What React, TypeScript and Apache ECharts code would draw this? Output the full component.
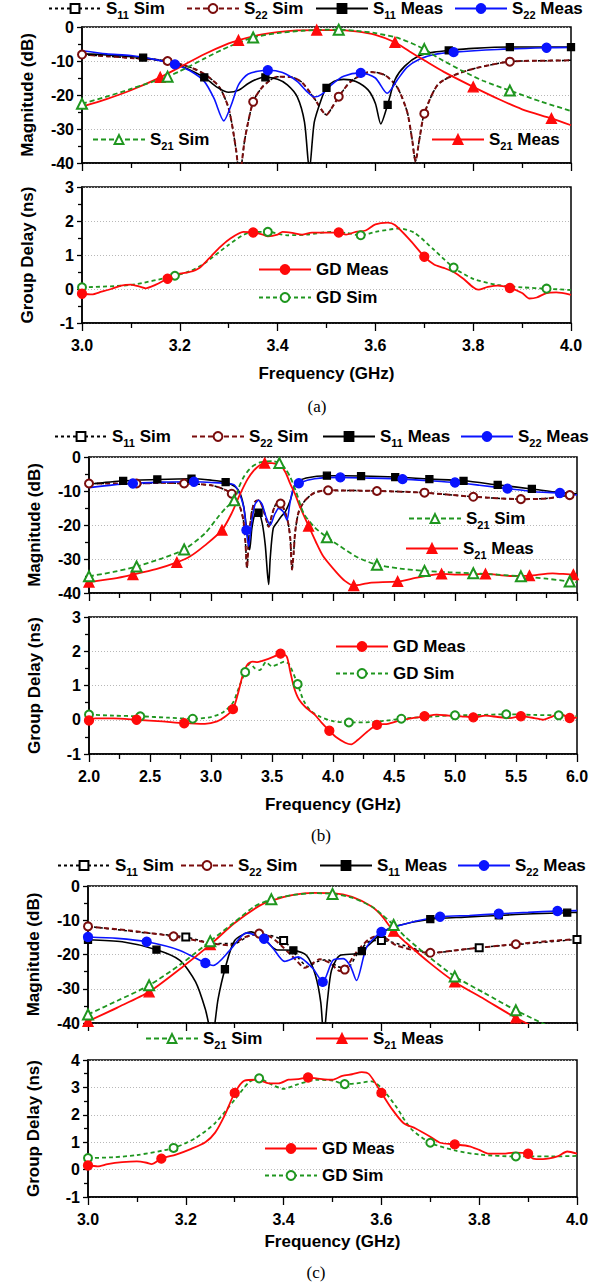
import React, { useEffect, useRef } from 'react';
import * as echarts from 'echarts';

type Pt = [number, number];

// ---------------- Panel (a) ----------------
const aS22Sim: Pt[] = [[3.0,-8.1],[3.05,-8.6],[3.1,-9.1],[3.175,-10.0],[3.22,-11.8],[3.25,-13.8],[3.28,-17.5],[3.3,-24],[3.315,-36],[3.322,-44],[3.333,-33],[3.35,-22],[3.37,-17.5],[3.4,-14.6],[3.43,-14.8],[3.45,-16.3],[3.475,-21],[3.5,-25.8],[3.51,-24],[3.525,-20.5],[3.55,-16],[3.59,-13.2],[3.62,-14.2],[3.645,-17.8],[3.665,-25],[3.675,-33],[3.682,-39.5],[3.69,-33],[3.7,-25.5],[3.73,-16.6],[3.79,-12.7],[3.875,-10.2],[3.95,-9.9],[4.0,-9.8]];
const aS22SimMk = [3.0, 3.175, 3.35, 3.525, 3.7, 3.875];
const aS11Sim: Pt[] = [[3.0,-8.1],[3.05,-8.6],[3.1,-9.1],[3.175,-10.0],[3.22,-11.8],[3.25,-13.8],[3.28,-17.5],[3.3,-24],[3.315,-36],[3.322,-44],[3.333,-33],[3.35,-22],[3.37,-17.5],[3.4,-14.6],[3.43,-14.8],[3.45,-16.3],[3.475,-21],[3.5,-25.8],[3.51,-24],[3.525,-20.5],[3.55,-16],[3.59,-13.2],[3.62,-14.2],[3.645,-17.8],[3.665,-25],[3.675,-33],[3.682,-39.5],[3.69,-33],[3.7,-25.5],[3.73,-16.6],[3.79,-12.7],[3.875,-10.2],[3.95,-9.9],[4.0,-9.8]];
const aS11SimMk: number[] = [];
const aS11Meas: Pt[] = [[3.0,-7.9],[3.05,-8.2],[3.1,-8.7],[3.125,-9.0],[3.175,-10.3],[3.2,-11.3],[3.25,-14.8],[3.275,-17.6],[3.3,-19.2],[3.32,-18.6],[3.34,-16.6],[3.36,-15.2],[3.375,-14.8],[3.4,-15.4],[3.42,-17],[3.44,-20.5],[3.455,-28],[3.465,-42],[3.475,-28],[3.49,-21],[3.5,-17.9],[3.515,-16],[3.535,-15.4],[3.56,-16],[3.585,-18.5],[3.6,-22.5],[3.611,-28.5],[3.625,-22.9],[3.64,-15.5],[3.66,-11.5],[3.69,-8.4],[3.72,-7.4],[3.75,-6.9],[3.8,-6.3],[3.875,-5.9],[3.95,-5.9],[4.0,-5.9]];
const aS11MeasMk = [3.125, 3.25, 3.375, 3.5, 3.625, 3.75, 3.875, 4.0];
const aS22Meas: Pt[] = [[3.0,-7.0],[3.05,-7.9],[3.1,-8.4],[3.15,-9.6],[3.19,-11.0],[3.22,-12.8],[3.25,-16],[3.27,-21],[3.29,-27.6],[3.305,-23],[3.32,-17],[3.34,-13.8],[3.38,-12.7],[3.41,-13.4],[3.44,-16],[3.46,-19],[3.475,-20.6],[3.49,-19.8],[3.51,-17],[3.535,-14.5],[3.57,-13.5],[3.6,-15],[3.624,-19.5],[3.645,-15.5],[3.665,-11.8],[3.69,-9.5],[3.72,-8.1],[3.76,-7.4],[3.85,-6.6],[3.95,-6.1],[4.0,-6.0]];
const aS22MeasMk = [3.19, 3.38, 3.57, 3.76, 3.95];
const aS21Meas: Pt[] = [[3.0,-23.4],[3.05,-21.2],[3.1,-18.6],[3.16,-14.8],[3.2,-11.8],[3.25,-8],[3.3,-4.8],[3.32,-3.9],[3.36,-2.4],[3.4,-1.5],[3.44,-1.0],[3.48,-0.9],[3.52,-0.9],[3.56,-1.3],[3.6,-2.3],[3.64,-4.5],[3.67,-7.2],[3.7,-9.8],[3.74,-13.2],[3.8,-17.6],[3.855,-21.4],[3.9,-24.2],[3.96,-26.9],[4.0,-28.9]];
const aS21MeasMk = [3.16, 3.32, 3.48, 3.64, 3.8, 3.96];
const aS21Sim: Pt[] = [[3.0,-22.6],[3.05,-20.5],[3.1,-18.2],[3.175,-14.6],[3.2,-13.0],[3.25,-9.3],[3.3,-5.8],[3.35,-3.1],[3.4,-1.8],[3.45,-1.1],[3.5,-0.8],[3.525,-0.8],[3.56,-1.1],[3.6,-1.8],[3.65,-3.4],[3.7,-6.5],[3.73,-9.2],[3.775,-12.7],[3.82,-15.8],[3.875,-18.7],[3.94,-22.0],[4.0,-24.7]];
const aS21SimMk = [3.0, 3.175, 3.35, 3.525, 3.7, 3.875];
const aGDMeas: Pt[] = [[3.0,-0.14],[3.02,-0.16],[3.04,-0.08],[3.06,0.0],[3.08,0.1],[3.1,0.13],[3.12,0.06],[3.13,0.02],[3.15,0.12],[3.175,0.3],[3.2,0.45],[3.22,0.5],[3.24,0.62],[3.26,0.9],[3.28,1.2],[3.3,1.45],[3.33,1.68],[3.35,1.66],[3.37,1.6],[3.38,1.55],[3.4,1.6],[3.41,1.68],[3.43,1.65],[3.45,1.6],[3.47,1.66],[3.5,1.66],[3.525,1.66],[3.54,1.6],[3.56,1.68],[3.58,1.72],[3.6,1.9],[3.625,1.95],[3.64,1.88],[3.67,1.45],[3.7,0.95],[3.72,0.72],[3.74,0.62],[3.76,0.5],[3.78,0.3],[3.8,0.05],[3.81,-0.02],[3.83,0.06],[3.85,0.1],[3.875,0.03],[3.9,-0.12],[3.915,-0.28],[3.93,-0.25],[3.95,-0.12],[3.97,-0.1],[4.0,-0.17]];
const aGDMeasMk = [3.0, 3.175, 3.35, 3.525, 3.7, 3.875];
const aGDSim: Pt[] = [[3.0,0.05],[3.1,0.12],[3.19,0.39],[3.22,0.52],[3.25,0.75],[3.3,1.3],[3.34,1.65],[3.38,1.68],[3.42,1.58],[3.46,1.6],[3.51,1.68],[3.54,1.65],[3.57,1.58],[3.6,1.68],[3.65,1.78],[3.68,1.65],[3.72,1.15],[3.76,0.63],[3.8,0.3],[3.85,0.12],[3.9,0.05],[3.95,0.01],[4.0,-0.03]];
const aGDSimMk = [3.0, 3.19, 3.38, 3.57, 3.76, 3.95];

// ---------------- Panel (b) ----------------
const bS22Sim: Pt[] = [[2.0,-7.8],[2.2,-7.8],[2.39,-7.8],[2.6,-7.6],[2.78,-7.8],[3.0,-8.3],[3.1,-9.4],[3.17,-10.8],[3.23,-14],[3.265,-18.5],[3.282,-25],[3.295,-32.6],[3.31,-24],[3.335,-16],[3.36,-13.2],[3.39,-12.7],[3.42,-14.5],[3.45,-18],[3.473,-20.5],[3.5,-17],[3.53,-14],[3.57,-13.7],[3.6,-15.5],[3.63,-19],[3.65,-24],[3.664,-33.1],[3.678,-28],[3.69,-22],[3.72,-16],[3.773,-12.7],[3.85,-10.5],[3.96,-9.8],[4.36,-10],[4.75,-10.5],[5.15,-11.7],[5.54,-12.4],[5.75,-12.2],[5.94,-11.2],[6.0,-10.8]];
const bS22SimMk = [2.0, 2.39, 2.78, 3.17, 3.57, 3.96, 4.36, 4.75, 5.15, 5.54, 5.94];
const bS11Sim: Pt[] = [[2.0,-7.8],[2.2,-7.8],[2.39,-7.8],[2.6,-7.6],[2.78,-7.8],[3.0,-8.3],[3.1,-9.4],[3.17,-10.8],[3.23,-14],[3.265,-18.5],[3.282,-25],[3.295,-32.6],[3.31,-24],[3.335,-16],[3.36,-13.2],[3.39,-12.7],[3.42,-14.5],[3.45,-18],[3.473,-20.5],[3.5,-17],[3.53,-14],[3.57,-13.7],[3.6,-15.5],[3.63,-19],[3.65,-24],[3.664,-33.1],[3.678,-28],[3.69,-22],[3.72,-16],[3.773,-12.7],[3.85,-10.5],[3.96,-9.8],[4.36,-10],[4.75,-10.5],[5.15,-11.7],[5.54,-12.4],[5.75,-12.2],[5.94,-11.2],[6.0,-10.8]];
const bS11SimMk: number[] = [];
const bS11Meas: Pt[] = [[2.0,-8.0],[2.28,-7.0],[2.56,-6.6],[2.84,-6.4],[3.0,-6.8],[3.12,-7.4],[3.2,-8.8],[3.24,-10.8],[3.27,-15],[3.295,-22],[3.317,-27.3],[3.335,-21],[3.36,-16.8],[3.39,-16.4],[3.42,-19.5],[3.445,-26],[3.462,-34],[3.473,-37.5],[3.485,-30],[3.51,-21],[3.546,-19],[3.58,-17.3],[3.609,-16.1],[3.65,-12.7],[3.68,-9],[3.705,-7.4],[3.78,-6.2],[3.95,-5.5],[4.23,-5.6],[4.51,-5.9],[4.79,-6.5],[5.07,-7.0],[5.35,-8.2],[5.63,-9.4],[5.85,-10.4],[6.0,-10.8]];
const bS11MeasMk = [2.28, 2.56, 2.84, 3.12, 3.39, 3.95, 4.23, 4.51, 4.79, 5.07, 5.35, 5.63];
const bS22Meas: Pt[] = [[2.0,-9.0],[2.2,-8.2],[2.36,-7.8],[2.6,-7.4],[2.86,-7.3],[3.0,-7.5],[3.12,-7.7],[3.19,-8.2],[3.23,-10.5],[3.268,-14.7],[3.29,-21.5],[3.309,-26.3],[3.33,-20],[3.36,-14],[3.39,-12.7],[3.42,-14],[3.45,-17.5],[3.486,-20],[3.52,-17],[3.555,-15.1],[3.59,-16],[3.623,-18.5],[3.645,-14],[3.678,-8.8],[3.72,-7.7],[3.85,-6.4],[4.06,-6.0],[4.3,-6.2],[4.57,-6.5],[4.8,-7.0],[5.0,-7.5],[5.2,-8.3],[5.43,-9.3],[5.65,-10.2],[5.86,-10.6],[6.0,-11.2]];
const bS22MeasMk = [2.36, 2.86, 3.29, 3.72, 4.06, 4.57, 5.0, 5.43, 5.86];
const bS21Meas: Pt[] = [[2.0,-36.8],[2.2,-35.8],[2.36,-34.6],[2.55,-33],[2.72,-31],[2.83,-29.2],[2.95,-26],[3.09,-21.5],[3.17,-16.5],[3.24,-10.8],[3.3,-6.5],[3.35,-4],[3.4,-2.4],[3.44,-1.8],[3.5,-1.8],[3.57,-2.6],[3.61,-4.5],[3.65,-7.9],[3.69,-11],[3.73,-14.7],[3.8,-20.3],[3.86,-25],[3.92,-29.2],[4.03,-34],[4.1,-36.5],[4.17,-37.8],[4.3,-37],[4.53,-36.6],[4.7,-35.4],[4.89,-34.4],[5.05,-34.6],[5.25,-34.4],[5.45,-35],[5.61,-34.9],[5.8,-34.2],[5.97,-34.6],[6.0,-34.6]];
const bS21MeasMk = [2.0, 2.36, 2.72, 3.09, 3.44, 3.8, 4.17, 4.53, 4.89, 5.25, 5.61, 5.97];
const bS21Sim: Pt[] = [[2.0,-35.1],[2.2,-33.8],[2.39,-32.2],[2.6,-29.8],[2.78,-27.2],[2.95,-22.5],[3.05,-18],[3.12,-15],[3.19,-12.7],[3.23,-8.8],[3.268,-5.9],[3.31,-3.8],[3.35,-2.5],[3.4,-1.6],[3.445,-1.3],[3.5,-1.2],[3.56,-1.8],[3.6,-3],[3.65,-5.9],[3.7,-10.5],[3.76,-16.6],[3.85,-20.7],[3.95,-23.6],[4.06,-26.3],[4.2,-29.5],[4.36,-31.7],[4.55,-32.8],[4.75,-33.5],[4.95,-33.9],[5.15,-34.2],[5.35,-34.6],[5.54,-35.1],[5.75,-35.8],[5.94,-36.6],[6.0,-36.9]];
const bS21SimMk = [2.0, 2.39, 2.78, 3.19, 3.56, 3.95, 4.36, 4.75, 5.15, 5.54, 5.94];
const bGDMeas: Pt[] = [[2.0,-0.02],[2.05,0.04],[2.2,0.04],[2.39,0.0],[2.6,-0.05],[2.78,-0.1],[2.95,-0.12],[3.05,-0.05],[3.12,0.1],[3.18,0.31],[3.22,0.75],[3.26,1.3],[3.3,1.62],[3.34,1.7],[3.38,1.68],[3.42,1.72],[3.47,1.78],[3.52,1.85],[3.57,1.93],[3.62,1.85],[3.65,1.4],[3.68,0.95],[3.72,0.6],[3.78,0.35],[3.85,0.15],[3.91,-0.1],[3.97,-0.32],[4.03,-0.52],[4.1,-0.67],[4.15,-0.72],[4.2,-0.6],[4.28,-0.35],[4.36,-0.15],[4.45,-0.12],[4.55,-0.02],[4.65,0.05],[4.75,0.1],[4.85,0.15],[4.95,0.12],[5.05,0.1],[5.15,0.07],[5.25,0.12],[5.35,0.08],[5.45,0.05],[5.54,0.1],[5.65,0.05],[5.72,0.0],[5.8,0.1],[5.86,0.18],[5.94,0.05],[6.0,0.06]];
const bGDMeasMk = [2.0, 2.39, 2.78, 3.18, 3.57, 3.97, 4.36, 4.75, 5.15, 5.54, 5.94];
const bGDSim: Pt[] = [[2.0,0.15],[2.2,0.12],[2.42,0.1],[2.65,0.06],[2.85,0.03],[3.0,0.08],[3.1,0.22],[3.18,0.5],[3.23,0.95],[3.28,1.39],[3.32,1.65],[3.36,1.5],[3.4,1.45],[3.45,1.68],[3.5,1.56],[3.55,1.62],[3.6,1.7],[3.64,1.62],[3.71,1.04],[3.76,0.55],[3.82,0.25],[3.9,0.08],[4.0,-0.04],[4.13,-0.08],[4.3,-0.07],[4.45,-0.02],[4.56,0.03],[4.75,0.08],[5.0,0.13],[5.2,0.14],[5.42,0.16],[5.65,0.14],[5.85,0.13],[6.0,0.1]];
const bGDSimMk = [2.0, 2.42, 2.85, 3.28, 3.71, 4.13, 4.56, 5.0, 5.42, 5.85];

// ---------------- Panel (c) ----------------
const cS22Sim: Pt[] = [[3.0,-11.8],[3.09,-13.1],[3.175,-14.7],[3.24,-16.4],[3.29,-17.3],[3.32,-15],[3.35,-13.9],[3.375,-15],[3.4,-18],[3.426,-21.7],[3.443,-23.9],[3.46,-22.5],[3.474,-21.4],[3.495,-22.5],[3.515,-24.8],[3.525,-24.4],[3.549,-19.3],[3.575,-15.5],[3.597,-14.4],[3.63,-17.3],[3.7,-19.5],[3.78,-18.3],[3.875,-17.0],[3.95,-16],[4.0,-15.5]];
const cS22SimMk = [3.0, 3.175, 3.35, 3.525, 3.7, 3.875];
const cS11Sim: Pt[] = [[3.0,-11.8],[3.1,-13.4],[3.2,-14.9],[3.26,-16.8],[3.3,-16.8],[3.33,-14.5],[3.36,-14.2],[3.4,-15.9],[3.43,-21],[3.45,-23.5],[3.47,-22],[3.49,-21.5],[3.51,-23.5],[3.53,-24],[3.55,-20],[3.575,-16.2],[3.6,-15.9],[3.65,-17.5],[3.7,-19.5],[3.8,-18.0],[3.9,-16.8],[4.0,-15.6]];
const cS11SimMk = [3.2, 3.4, 3.6, 3.8, 4.0];
const cS11Meas: Pt[] = [[3.0,-15.7],[3.07,-16.3],[3.14,-18.6],[3.188,-21.7],[3.22,-28],[3.24,-36],[3.254,-44],[3.266,-33],[3.28,-24.3],[3.3,-15.9],[3.334,-13.4],[3.36,-15.5],[3.385,-18.6],[3.42,-18.8],[3.447,-20.3],[3.465,-26],[3.476,-34],[3.482,-44],[3.49,-33],[3.498,-24.6],[3.515,-20.3],[3.549,-19.8],[3.56,-19],[3.58,-16.5],[3.6,-13.7],[3.63,-11.7],[3.7,-9.7],[3.77,-9.1],[3.84,-8.6],[3.91,-8.1],[3.98,-7.8],[4.0,-7.7]];
const cS11MeasMk = [3.0, 3.14, 3.28, 3.42, 3.56, 3.7, 3.84, 3.98];
const cS22Meas: Pt[] = [[3.0,-14.9],[3.06,-15.3],[3.12,-16.3],[3.188,-18.8],[3.24,-22.5],[3.256,-23.2],[3.29,-18.8],[3.324,-13.7],[3.36,-15.4],[3.379,-18.3],[3.402,-22],[3.43,-20.7],[3.46,-24.1],[3.48,-28],[3.501,-21.7],[3.522,-21.2],[3.537,-23.5],[3.549,-27.6],[3.57,-17.8],[3.6,-13.4],[3.65,-11],[3.72,-9.0],[3.78,-8.6],[3.84,-8.1],[3.9,-7.7],[3.96,-7.3],[4.0,-7.2]];
const cS22MeasMk = [3.0, 3.12, 3.24, 3.36, 3.48, 3.6, 3.72, 3.84, 3.96];
const cS21Meas: Pt[] = [[3.0,-39.5],[3.06,-35.5],[3.125,-30.9],[3.19,-24],[3.25,-17.1],[3.3,-10.8],[3.35,-5.8],[3.375,-4.3],[3.42,-2.6],[3.46,-2.0],[3.5,-2.1],[3.54,-3.2],[3.58,-6],[3.6,-8.6],[3.625,-13.2],[3.65,-16.5],[3.7,-22.6],[3.75,-28],[3.81,-33],[3.875,-38.5],[3.91,-41]];
const cS21MeasMk = [3.0, 3.125, 3.25, 3.625, 3.75, 3.875];
const cS21Sim: Pt[] = [[3.0,-37.5],[3.06,-33.5],[3.125,-29],[3.19,-22.8],[3.25,-16.1],[3.3,-10.5],[3.34,-6],[3.375,-3.9],[3.42,-2.6],[3.46,-2.1],[3.5,-2.3],[3.54,-3.4],[3.58,-6],[3.6,-8.2],[3.625,-11.4],[3.65,-15],[3.7,-21],[3.75,-26.4],[3.81,-31.2],[3.875,-36.3],[3.94,-40.8]];
const cS21SimMk = [3.0, 3.125, 3.25, 3.375, 3.5, 3.625, 3.75, 3.875];
const cGDMeas: Pt[] = [[3.0,0.15],[3.02,0.12],[3.04,0.2],[3.07,0.27],[3.1,0.3],[3.12,0.25],[3.13,0.2],[3.15,0.4],[3.18,0.55],[3.21,0.75],[3.24,1.0],[3.26,1.35],[3.28,2.0],[3.3,2.8],[3.32,3.25],[3.345,3.28],[3.37,3.15],[3.39,3.15],[3.41,3.28],[3.43,3.3],[3.45,3.36],[3.47,3.32],[3.5,3.28],[3.52,3.42],[3.54,3.48],[3.56,3.56],[3.575,3.48],[3.6,2.8],[3.62,2.25],[3.645,1.7],[3.67,1.5],[3.7,1.2],[3.72,0.98],[3.75,0.92],[3.78,0.85],[3.8,0.72],[3.82,0.58],[3.85,0.58],[3.87,0.62],[3.9,0.58],[3.91,0.4],[3.93,0.38],[3.96,0.48],[3.98,0.66],[4.0,0.58]];
const cGDMeasMk = [3.0, 3.15, 3.3, 3.45, 3.6, 3.75, 3.9];
const cGDSim: Pt[] = [[3.0,0.42],[3.05,0.45],[3.1,0.53],[3.175,0.79],[3.22,1.15],[3.26,1.7],[3.3,2.55],[3.33,3.2],[3.35,3.33],[3.37,3.15],[3.4,2.95],[3.43,3.12],[3.47,3.28],[3.5,3.25],[3.525,3.12],[3.55,3.15],[3.58,3.22],[3.6,2.98],[3.63,2.3],[3.66,1.5],[3.7,0.98],[3.75,0.7],[3.8,0.55],[3.875,0.48],[3.95,0.48],[4.0,0.5]];
const cGDSimMk = [3.0, 3.175, 3.35, 3.525, 3.7, 3.875];

// ---------------- Axis ticks / labels ----------------
const magTicks = { min: -40, max: 0, interval: 10 };
const gdTicksAB = { min: -1, max: 3, interval: 1 };
const gdTicksC = { min: -1, max: 4, interval: 1 };
const xTicksA = { min: 3.0, max: 4.0, interval: 0.2 };
const xTicksB = { min: 2.0, max: 6.0, interval: 0.5 };
const xTicksC = { min: 3.0, max: 4.0, interval: 0.2 };

const FONT = '"Liberation Sans", Arial, Helvetica, sans-serif';

type Sty = { color: string; dash: any; width: number; symbol: string; size: number };
const STY: Record<string, Sty> = {
  'S11 Sim': { color: '#000000', dash: [3, 3], width: 1.5, symbol: 'emptyRect', size: 7 },
  'S22 Sim': { color: '#7a0d0d', dash: [5, 3], width: 2, symbol: 'emptyCircle', size: 8 },
  'S11 Meas': { color: '#000000', dash: 'solid', width: 1.6, symbol: 'rect', size: 7 },
  'S22 Meas': { color: '#0a14ff', dash: 'solid', width: 1.6, symbol: 'circle', size: 9 },
  'S21 Meas': { color: '#ff0a0a', dash: 'solid', width: 1.8, symbol: 'triangle', size: 10 },
  'S21 Sim': { color: '#1f961f', dash: [5, 3], width: 1.8, symbol: 'emptyTriangle', size: 10 },
  'GD Meas': { color: '#ff0a0a', dash: 'solid', width: 1.8, symbol: 'circle', size: 9 },
  'GD Sim': { color: '#1f961f', dash: [4, 3], width: 1.8, symbol: 'emptyCircle', size: 8 },
};

type Curve = [string, Pt[], number[]];
type PanelDef = {
  id: string;
  x: { min: number; max: number; interval: number };
  gd: { min: number; max: number; interval: number };
  mag: number[];
  gdg: number[];
  nameGap: number;
  caption: [string, number, number];
  magCurves: Curve[];
  gdCurves: Curve[];
  legends: [string, number, number][];
};

const PANELS: PanelDef[] = [
  {
    id: 'a', x: xTicksA, gd: gdTicksAB, mag: [82, 27, 489, 136], gdg: [82, 187, 489, 136], nameGap: 42,
    caption: ['(a)', 317, 406],
    magCurves: [['S11 Sim', aS11Sim, aS11SimMk], ['S22 Sim', aS22Sim, aS22SimMk], ['S11 Meas', aS11Meas, aS11MeasMk], ['S22 Meas', aS22Meas, aS22MeasMk], ['S21 Meas', aS21Meas, aS21MeasMk], ['S21 Sim', aS21Sim, aS21SimMk]],
    gdCurves: [['GD Sim', aGDSim, aGDSimMk], ['GD Meas', aGDMeas, aGDMeasMk]],
    legends: [['S11 Sim', 48, 12], ['S22 Sim', 186, 12], ['S11 Meas', 315, 12], ['S22 Meas', 454, 12], ['S21 Sim', 92, 143], ['S21 Meas', 431, 143], ['GD Meas', 258, 270], ['GD Sim', 258, 298]],
  },
  {
    id: 'b', x: xTicksB, gd: gdTicksAB, mag: [89, 457, 488, 136], gdg: [89, 617, 488, 137], nameGap: 42,
    caption: ['(b)', 321, 835],
    magCurves: [['S11 Sim', bS11Sim, bS11SimMk], ['S22 Sim', bS22Sim, bS22SimMk], ['S11 Meas', bS11Meas, bS11MeasMk], ['S22 Meas', bS22Meas, bS22MeasMk], ['S21 Meas', bS21Meas, bS21MeasMk], ['S21 Sim', bS21Sim, bS21SimMk]],
    gdCurves: [['GD Sim', bGDSim, bGDSimMk], ['GD Meas', bGDMeas, bGDMeasMk]],
    legends: [['S11 Sim', 54, 440], ['S22 Sim', 191, 440], ['S11 Meas', 322, 440], ['S22 Meas', 460, 440], ['S21 Sim', 408, 522], ['S21 Meas', 405, 552], ['GD Meas', 335, 647], ['GD Sim', 335, 674]],
  },
  {
    id: 'c', x: xTicksC, gd: gdTicksC, mag: [88, 886, 489, 137], gdg: [88, 1060, 489, 137], nameGap: 36,
    caption: ['(c)', 316, 1272],
    magCurves: [['S11 Sim', cS11Sim, cS11SimMk], ['S22 Sim', cS22Sim, cS22SimMk], ['S11 Meas', cS11Meas, cS11MeasMk], ['S22 Meas', cS22Meas, cS22MeasMk], ['S21 Meas', cS21Meas, cS21MeasMk], ['S21 Sim', cS21Sim, cS21SimMk]],
    gdCurves: [['GD Sim', cGDSim, cGDSimMk], ['GD Meas', cGDMeas, cGDMeasMk]],
    legends: [['S11 Sim', 57, 869], ['S22 Sim', 180, 869], ['S11 Meas', 319, 869], ['S22 Meas', 457, 869], ['S21 Sim', 145, 1042], ['S21 Meas', 315, 1042], ['GD Meas', 264, 1149], ['GD Sim', 264, 1176]],
  },
];

function buildOption() {
  const grid: any[] = [];
  const xAxis: any[] = [];
  const yAxis: any[] = [];
  const series: any[] = [];
  const legend: any[] = [];
  const graphic: any[] = [];

  const labelStyle = { fontSize: 16, fontWeight: 'bold', fontFamily: FONT, color: '#000' };
  const nameStyle = { fontSize: 17, fontWeight: 'bold', fontFamily: FONT, color: '#000' };
  const lineBlack = { color: '#000', width: 1.5 };

  const addGrid = (rect: number[], xr: any, yr: any, showX: boolean, yName: string, nameGap: number) => {
    const gi = grid.length;
    grid.push({ left: rect[0], top: rect[1], width: rect[2], height: rect[3], show: true, borderColor: '#000', borderWidth: 1.5, containLabel: false });
    xAxis.push({
      type: 'value', gridIndex: gi, min: xr.min, max: xr.max, interval: xr.interval,
      axisLine: { show: true, onZero: false, lineStyle: lineBlack },
      axisTick: { show: true, inside: false, length: 8, lineStyle: { color: '#000', width: 1.3 } },
      minorTick: { show: true, splitNumber: 2, length: 5, lineStyle: { color: '#000', width: 1.3 } },
      axisLabel: { show: showX, margin: 14, formatter: (v: number) => v.toFixed(1), ...labelStyle },
      splitLine: { show: false },
      name: showX ? 'Frequency (GHz)' : '', nameLocation: 'middle', nameGap, nameTextStyle: nameStyle,
    });
    yAxis.push({
      type: 'value', gridIndex: gi, min: yr.min, max: yr.max, interval: yr.interval,
      axisLine: { show: true, onZero: false, lineStyle: lineBlack },
      axisTick: { show: true, inside: false, length: 5, lineStyle: { color: '#000', width: 1.3 } },
      minorTick: { show: true, splitNumber: 2, length: 4, lineStyle: { color: '#000', width: 1.3 } },
      axisLabel: { margin: 8, ...labelStyle },
      splitLine: { show: true, lineStyle: { color: '#b8b8b8', type: [1, 2], width: 1 } },
      name: yName, nameLocation: 'middle', nameGap: 46, nameTextStyle: nameStyle,
    });
    return gi;
  };

  const mkData = (pts: Pt[], marks: number[], sym: string) =>
    pts.map((p) => ({ value: p, symbol: marks.indexOf(p[0]) >= 0 ? sym : 'none' }));

  const addSeries = (pid: string, gi: number, c: Curve) => {
    const s = STY[c[0]];
    series.push({
      type: 'line', name: pid + ':' + c[0], xAxisIndex: gi, yAxisIndex: gi,
      data: mkData(c[1], c[2], s.symbol), symbol: s.symbol, symbolSize: s.size,
      showSymbol: true, showAllSymbol: true, smooth: 0.25, clip: true,
      lineStyle: { color: s.color, width: s.width, type: s.dash },
      itemStyle: { color: s.color, borderColor: s.color, borderWidth: 1.3 },
      emphasis: { disabled: true }, silent: true,
    });
  };

  const fmt = (name: string) => {
    const n = name.split(':')[1];
    const m = n.match(/^S(\d\d) (.*)$/);
    return m ? `{t|S}{s|${m[1]}}{t| ${m[2]}}` : `{t|${n}}`;
  };

  PANELS.forEach((p) => {
    const gm = addGrid(p.mag, p.x, magTicks, false, 'Magnitude (dB)', p.nameGap);
    const gg = addGrid(p.gdg, p.x, p.gd, true, 'Group Delay (ns)', p.nameGap);
    p.magCurves.forEach((c) => addSeries(p.id, gm, c));
    p.gdCurves.forEach((c) => addSeries(p.id, gg, c));
    p.legends.forEach(([nm, left, yc]) => {
      const isS = nm.startsWith('S');
      legend.push({
        data: [p.id + ':' + nm], left, top: Math.max(0, yc - (isS ? 12 : 9)), padding: 0, itemGap: 0,
        itemWidth: 52, itemHeight: 11, selectedMode: false, formatter: fmt,
        textStyle: {
          color: '#000', fontFamily: FONT, fontWeight: 'bold', fontSize: 17,
          rich: {
            t: { fontSize: 17, fontWeight: 'bold', fontFamily: FONT, color: '#000' },
            s: { fontSize: 11, fontWeight: 'bold', fontFamily: FONT, color: '#000', padding: [13, 0, 0, 0] },
          },
        },
      });
    });
    graphic.push({
      type: 'text', x: p.caption[1], y: p.caption[2], silent: true,
      style: { text: p.caption[0], fontSize: 17, fontFamily: '"Liberation Serif", "Times New Roman", serif', fill: '#000', align: 'center', verticalAlign: 'middle' },
    });
  });

  return { animation: false, backgroundColor: '#fff', grid, xAxis, yAxis, series, legend, graphic };
}

export default function App() {
  const ref = useRef<HTMLDivElement>(null);
  useEffect(() => {
    document.body.style.margin = '0';
    if (!ref.current) return;
    const chart = echarts.init(ref.current, undefined, { renderer: 'svg' });
    chart.setOption(buildOption() as any);
    return () => chart.dispose();
  }, []);
  return <div ref={ref} style={{ width: 602, height: 1284 }} />;
}
